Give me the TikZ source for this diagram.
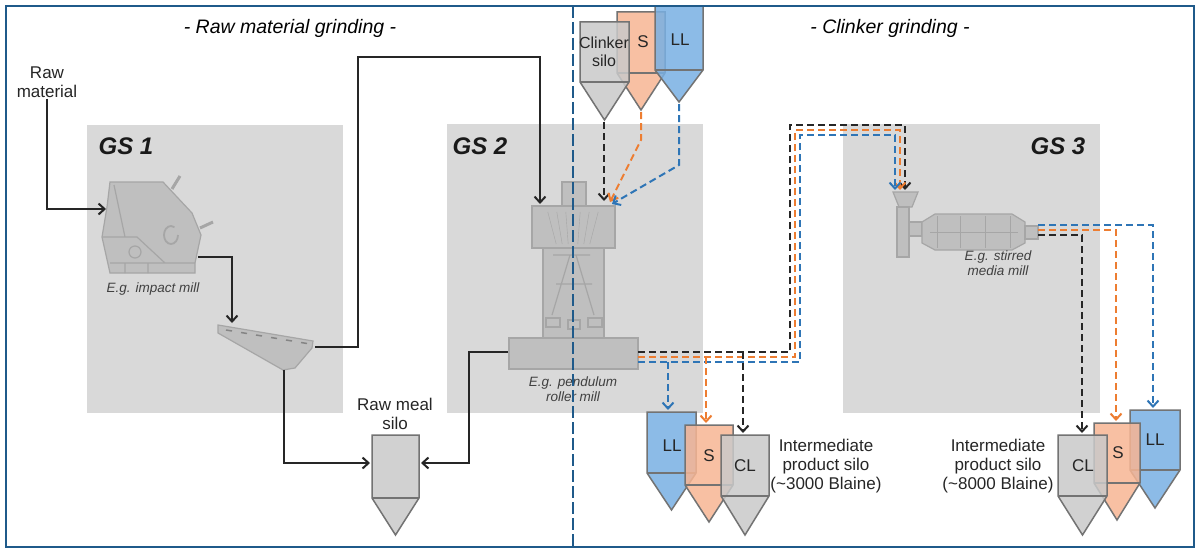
\documentclass[tikz,border=0pt]{standalone}
\usepackage{fontspec}
\setmainfont{Liberation Sans}
\usetikzlibrary{arrows.meta}
\definecolor{frame}{HTML}{1F5A8A}
\definecolor{gsbox}{HTML}{D9D9D9}
\definecolor{machine}{HTML}{BFBFBF}
\definecolor{medge}{HTML}{A6A6A6}
\definecolor{siloG}{HTML}{C9C9C9}
\definecolor{siloO}{HTML}{F7B593}
\definecolor{siloB}{HTML}{78B0E3}
\definecolor{lnO}{HTML}{ED7D31}
\definecolor{lnB}{HTML}{2E75B6}
\definecolor{lnK}{HTML}{262626}
\newcommand\mysilo[6]{% x1 x2 y1 y2 ytip color
  \path[draw=gray!90!black,line width=1.5pt,fill=#6,fill opacity=0.85]
    (#1,#3)--(#2,#3)--(#2,#4)--({(#1+#2)/2},#5)--(#1,#4)--cycle;
  \draw[gray!90!black,line width=1.5pt] (#1,#4)--(#2,#4);}
\begin{document}
\begin{tikzpicture}[x=1pt,y=-1pt,
  lab/.style={font=\fontsize{17}{19}\selectfont,align=center,text=black!85,inner sep=1pt},
  small/.style={font=\itshape\fontsize{13.5}{15.5}\selectfont,align=center,text=black!75},
  gs/.style={font=\bfseries\itshape\fontsize{24}{26}\selectfont,text=black!90},
  ttl/.style={font=\itshape\fontsize{19.5}{21}\selectfont},
  sld/.style={draw=lnK,line width=2pt,-{Straight Barb[length=6pt,width=11pt]}},
  dsh/.style={line width=2pt,dash pattern=on 7pt off 4pt,-{Straight Barb[length=6pt,width=11pt]}},
  mach/.style={fill=machine,draw=medge,line width=1.2pt}]
\useasboundingbox (0,0) rectangle (1200,551);
\fill[white] (0,0) rectangle (1200,551);
% GS boxes
\fill[gsbox] (87,125) rectangle (343,413);
\fill[gsbox] (447,124) rectangle (703,413);
\fill[gsbox] (843,124) rectangle (1100,413);
\node[gs] (gs1) at (126,146) {GS 1};
\node[gs] (gs2) at (480,146) {GS 2};
\node[gs] (gs3) at (1058,146) {GS 3};
\node[ttl] (t1) at (290,28) {- Raw material grinding -};
\node[ttl] (t2) at (890,28) {- Clinker grinding -};
% impact mill
\draw[mach] (110,182)--(163,182)--(192,213)--(201,235)--(195,263)--(195,273)--(110,273)--(102,237)--(107,207)--cycle;
\draw[medge,line width=3pt] (172,189)--(180,176);
\draw[medge,line width=3pt] (200,228)--(213,222);
\draw[medge,line width=1.2pt] (114,185)--(125,237) (102,237)--(137,237)--(165,263) (110,263)--(195,263) (125,263)--(125,273) (148,263)--(148,273);
\draw[medge,line width=1.2pt] (135,252) circle (6pt);
\draw[medge,line width=1.8pt] (178,235) arc (0:-300:7pt and 9pt);
\coordinate (imin) at (106,209);
\coordinate (imout) at (198,257);
\node[small] (iml) at (153,289) {E.g. impact mill};
% separator
\draw[mach] (218,325)--(313,341)--(312,348)--(295,368)--(283,370)--(218,333)--cycle;
\foreach \i in {0,...,5} \draw[medge!80!black,line width=1.5pt] ({226+\i*15},{330+\i*2.5})--({232+\i*15},{331+\i*2.5});
\coordinate (sepin) at (232,323);
\coordinate (sepr) at (315,347);
\coordinate (sepb) at (284,370);
% raw meal silo
\mysilo{372}{419}{435}{498}{535}{siloG}
\coordinate (rmL) at (370,463);
\coordinate (rmR) at (421,463);
\node[lab] (rml) at (395,414) {Raw meal\\silo};
% pendulum mill
\draw[mach] (562,182) rectangle (586,206);
\draw[mach] (543,248) rectangle (604,338);
\draw[mach] (532,206) rectangle (615,248);
\draw[mach] (509,338) rectangle (638,369);
\foreach \a in {-14,-9,-4,4,9,14} \draw[medge] ({573+\a*1.8},212)--({573+\a*1.2},244);
\draw[medge,line width=1.2pt] (553,255)--(590,255) (570,255)--(552,315) (576,255)--(594,315) (556,284)--(592,284);
\draw[mach] (546,318) rectangle (560,327) (568,320) rectangle (580,329) (588,318) rectangle (602,327);
\coordinate (pmtop) at (540,204);
\coordinate (pmL) at (508,352);
\node[small] (pml) at (573,389) {E.g. pendulum\\roller mill};
% stirred media mill
\draw[mach] (893,192)--(918,192)--(912,207)--(899,207)--cycle;
\draw[mach] (897,207) rectangle (909,257);
\draw[mach] (909,222) rectangle (922,236);
\draw[mach] (922,222)--(935,214)--(1012,214)--(1025,222)--(1025,243)--(1012,250)--(935,250)--(922,243)--cycle;
\draw[mach] (1025,226) rectangle (1038,239);
\foreach \xx in {937,960,985,1010} \draw[medge] (\xx,216)--(\xx,248);
\draw[medge] (930,232)--(1018,232);
\node[small] (sml) at (998,263) {E.g. stirred\\media mill};
% top silos
\mysilo{617}{665}{12}{73}{110}{siloO}
\mysilo{655}{703}{6}{70}{102}{siloB}
\mysilo{580}{629}{22}{82}{120}{siloG}
\node[lab,font=\fontsize{16}{18}\selectfont] (cs) at (604,52) {Clinker\\silo};
\node[lab] (ts) at (643,42) {S};
\node[lab] (tl) at (680,40) {LL};
% intermediate silos 1
\mysilo{647}{696}{412}{473}{510}{siloB}
\mysilo{685}{733}{425}{485}{522}{siloO}
\mysilo{721}{769}{435}{496}{535}{siloG}
\node[lab] (a1) at (672,446) {LL};
\node[lab] (a2) at (709,456) {S};
\node[lab] (a3) at (745,466) {CL};
\node[lab] (ip1) at (826,466) {Intermediate\\product silo\\(\textasciitilde3000 Blaine)};
% intermediate silos 2
\mysilo{1130}{1180}{410}{470}{508}{siloB}
\mysilo{1094}{1140}{423}{483}{520}{siloO}
\mysilo{1058}{1107}{435}{496}{535}{siloG}
\node[lab] (b1) at (1155,440) {LL};
\node[lab] (b2) at (1118,453) {S};
\node[lab] (b3) at (1083,466) {CL};
\node[lab] (ip2) at (998,466) {Intermediate\\product silo\\(\textasciitilde8000 Blaine)};
% raw material
\node[lab] (raw) at (47,82) {Raw\\material};
% solid connectors
\draw[sld] (raw.south) |- (imin);
\draw[sld] (imout) -| (sepin);
\draw[sld] (sepr) -- (358,347) -- (358,57) -| (pmtop);
\draw[sld] (sepb) |- (rmL);
\draw[sld] (pmL) -- (469,352) |- (rmR);
% top silo feeds
\draw[dsh,draw=lnK] (604,122) -- (604,201);
\draw[dsh,draw=lnO] (641,112) -- (641,140) -- (610,202);
\draw[dsh,draw=lnB] (679,104) -- (679,165) -- (612,204);
% pendulum outputs
\draw[dsh,draw=lnK] (638,352) -- (790,352) -- (790,125) -- (905,125) -- (905,190);
\draw[dsh,draw=lnO] (638,357) -- (795,357) -- (795,130) -- (900,130) -- (900,190);
\draw[dsh,draw=lnB] (638,362) -- (800,362) -- (800,135) -- (895,135) -- (895,190);
\draw[dsh,draw=lnK] (743,352) -- (743,433);
\draw[dsh,draw=lnO] (706,357) -- (706,423);
\draw[dsh,draw=lnB] (668,362) -- (668,410);
% stirred mill outputs
\draw[dsh,draw=lnB] (1038,225) -- (1153,225) -- (1153,408);
\draw[dsh,draw=lnO] (1038,230) -- (1116,230) -- (1116,421);
\draw[dsh,draw=lnK] (1038,235) -- (1082,235) -- (1082,433);
% divider and frame
\draw[frame,line width=1.8pt,dash pattern=on 12pt off 4pt] (573,6) -- (573,547);
\draw[frame,line width=2.2pt] (6,6) rectangle (1194,547);
\end{tikzpicture}
\end{document}
